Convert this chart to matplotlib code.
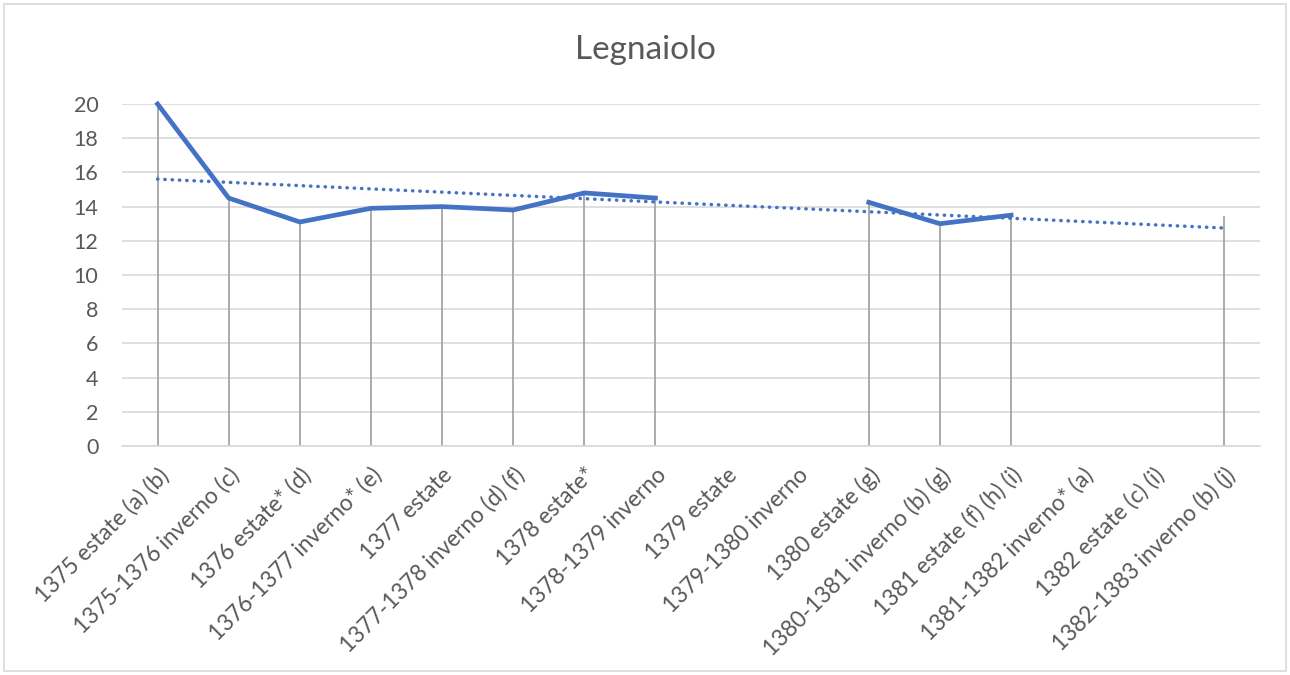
import numpy as np
import matplotlib.pyplot as plt
from matplotlib.patches import Rectangle

# Data
categories = ['1375 estate (a) (b)', '1375-1376 inverno (c)', '1376 estate* (d)',
              '1376-1377 inverno* (e)', '1377 estate', '1377-1378 inverno (d) (f)',
              '1378 estate*', '1378-1379 inverno', '1379 estate', '1379-1380 inverno',
              '1380 estate (g)', '1380-1381 inverno (b) (g)', '1381 estate (f) (h) (i)',
              '1381-1382 inverno* (a)', '1382 estate (c) (i)', '1382-1383 inverno (b) (j)']
values = [20, 14.5, 13.1, 13.9, 14.0, 13.8, 14.8, 14.5, np.nan, np.nan,
          14.25, 13.0, 13.5, np.nan, np.nan, 13.45]

blue = '#4472C4'
txt = '#595959'
grid = '#d9d9d9'

plt.rcParams['font.family'] = ['Lato', 'DejaVu Sans']

x = np.arange(len(categories))
y = np.array(values, dtype=float)
ok = ~np.isnan(y)

fig = plt.figure(figsize=(12.9, 6.75), dpi=100)
ax = fig.add_axes([122/1290, 1-446/675, (1260-122)/1290, (446-104)/675])

# drop lines
ax.vlines(x[ok], 0, y[ok], color='#a5a5a5', lw=1.3, zorder=2)

# series
ax.plot(x, y, color=blue, lw=3.4, solid_joinstyle='round', clip_on=False, zorder=3)

# linear trendline (Excel style, x = 1..n)
coef = np.polyfit(x[ok] + 1, y[ok], 1)
tx = np.array([x[0], x[-1]])
ax.plot(tx, np.polyval(coef, tx + 1), color=blue, lw=2.5, ls=(0, (0.1, 2.0)),
        dash_capstyle='round', zorder=4)

ax.set_xlim(-0.5, len(categories) - 0.5)
ax.set_ylim(0, 20)
ax.set_yticks(np.arange(0, 21, 2))
ax.yaxis.grid(True, color=grid, lw=1.2)
ax.set_axisbelow(True)
for s in ['top', 'right', 'left']:
    ax.spines[s].set_visible(False)
ax.spines['bottom'].set_color(grid)
ax.spines['bottom'].set_linewidth(1.2)
ax.tick_params(axis='both', length=0, colors=txt)
ax.tick_params(axis='y', pad=17, labelsize=15.5)
ax.set_xticks(x)
ax.set_xticklabels(categories, rotation=45, ha='right', rotation_mode='anchor')
ax.tick_params(axis='x', pad=13, labelsize=16.3)

fig.text(0.5, 1-50/675, 'Legnaiolo', ha='center', va='center', fontsize=24, color=txt)

fig.patches.append(Rectangle((4/1290, 4/675), 1282/1290, 667/675, transform=fig.transFigure,
                             fill=False, edgecolor=grid, lw=1.2))

fig.savefig('out.png', dpi=100, facecolor='white')
